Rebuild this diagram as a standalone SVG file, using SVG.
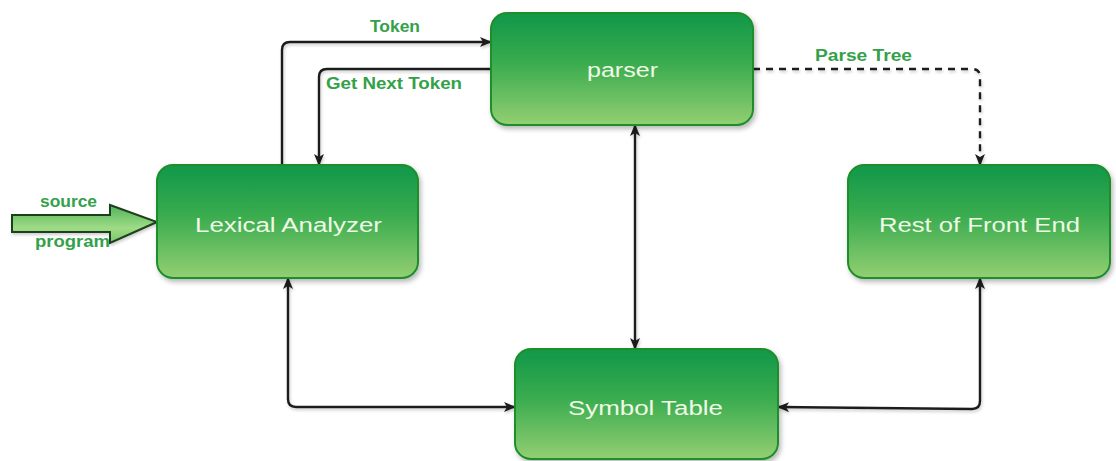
<svg xmlns="http://www.w3.org/2000/svg" width="1116" height="461" viewBox="0 0 1116 461">
  <defs>
    <linearGradient id="boxFill" x1="0" y1="0" x2="0" y2="1">
      <stop offset="0" stop-color="#11974a"/>
      <stop offset="0.45" stop-color="#3aac4f"/>
      <stop offset="1" stop-color="#93cf72"/>
    </linearGradient>
    <linearGradient id="arrowFill" x1="0" y1="0" x2="0" y2="1">
      <stop offset="0" stop-color="#4fb35a"/>
      <stop offset="0.6" stop-color="#9fdb86"/>
      <stop offset="1" stop-color="#7cc86a"/>
    </linearGradient>
    <filter id="shadow" x="-10%" y="-10%" width="125%" height="130%">
      <feDropShadow dx="2" dy="3" stdDeviation="2.5" flood-color="#000" flood-opacity="0.28"/>
    </filter>
    <filter id="lineShadow" x="-5%" y="-5%" width="115%" height="115%">
      <feDropShadow dx="1" dy="2" stdDeviation="1.5" flood-color="#000" flood-opacity="0.2"/>
    </filter>
    <marker id="head" viewBox="0 0 12 10" refX="11" refY="5" markerWidth="12" markerHeight="10" markerUnits="userSpaceOnUse" orient="auto-start-reverse">
      <path d="M0,0 L12,5 L0,10 L3,5 Z" fill="#1e1e1e"/>
    </marker>
    <style>
      .box { fill: url(#boxFill); stroke: #1f8f2c; stroke-width: 2; filter: url(#shadow); }
      .node-text { font-family: "Liberation Sans", Arial, sans-serif; font-size: 20px; fill: #eef9e6; lengthAdjust: spacingAndGlyphs; }
      .edge { fill: none; stroke: #1e1e1e; stroke-width: 2.4; stroke-linejoin: round; }
      .dashed { stroke-dasharray: 7 6; }
      .label { font-family: "Liberation Sans", Arial, sans-serif; font-size: 16px; font-weight: bold; fill: #33a14a; }
    </style>
  </defs>

  <rect width="1116" height="461" fill="#ffffff"/>

  <!-- connectors -->
  <g id="connectors" filter="url(#lineShadow)">
    <!-- Token: lexical analyzer up to parser -->
    <path class="edge" d="M282,165 V50 Q282,42 290,42 H491" marker-end="url(#head)"/>
    <!-- Get Next Token: parser down to lexical analyzer -->
    <path class="edge" d="M491,69 H327 Q319,69 319,77 V165" marker-end="url(#head)"/>
    <!-- Parse Tree: parser to rest of front end -->
    <path class="edge dashed" d="M753,69 H972 Q980,69 980,77 V165" marker-end="url(#head)"/>
    <!-- parser <-> symbol table -->
    <path class="edge" d="M635,125 V349" marker-start="url(#head)" marker-end="url(#head)"/>
    <!-- lexical analyzer <-> symbol table -->
    <path class="edge" d="M288,278 V399 Q288,407 296,407 H515" marker-start="url(#head)" marker-end="url(#head)"/>
    <!-- rest of front end <-> symbol table -->
    <path class="edge" d="M980,278 V401 Q980,409 972,409 L778,407" marker-start="url(#head)" marker-end="url(#head)"/>
  </g>

  <!-- edge labels -->
  <g id="edge-labels">
    <text class="label" x="370" y="32" textLength="50" lengthAdjust="spacingAndGlyphs">Token</text>
    <text class="label" x="326" y="89" textLength="136" lengthAdjust="spacingAndGlyphs">Get Next Token</text>
    <text class="label" x="815" y="61" textLength="97" lengthAdjust="spacingAndGlyphs">Parse Tree</text>
  </g>

  <!-- source program input arrow -->
  <g id="source-program">
    <path d="M12,215 H110 V205 L157,222 L110,243 V232 H12 Z" fill="url(#arrowFill)" stroke="#1f3f1f" stroke-width="2" stroke-linejoin="miter" filter="url(#lineShadow)"/>
    <text class="label" x="40" y="207" textLength="57" lengthAdjust="spacingAndGlyphs">source</text>
    <text class="label" x="35" y="247" textLength="75" lengthAdjust="spacingAndGlyphs">program</text>
  </g>

  <!-- nodes -->
  <g id="node-lexical">
    <rect class="box" x="157" y="165" width="261" height="113" rx="16"/>
    <text class="node-text" x="195" y="232" textLength="187" lengthAdjust="spacingAndGlyphs">Lexical Analyzer</text>
  </g>
  <g id="node-parser">
    <rect class="box" x="491" y="13" width="262" height="112" rx="16"/>
    <text class="node-text" x="587" y="77" textLength="71" lengthAdjust="spacingAndGlyphs">parser</text>
  </g>
  <g id="node-rest">
    <rect class="box" x="848" y="165" width="262" height="113" rx="16"/>
    <text class="node-text" x="879" y="232" textLength="201" lengthAdjust="spacingAndGlyphs">Rest of Front End</text>
  </g>
  <g id="node-symbol">
    <rect class="box" x="515" y="349" width="263" height="110" rx="16"/>
    <text class="node-text" x="568" y="415" textLength="155" lengthAdjust="spacingAndGlyphs">Symbol Table</text>
  </g>
</svg>
